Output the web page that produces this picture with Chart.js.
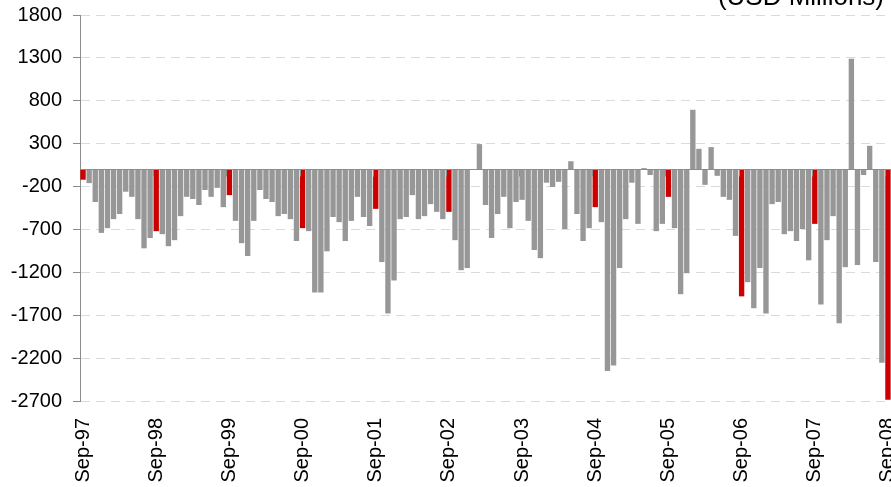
<!DOCTYPE html>
<html>
<head>
<meta charset="utf-8">
<script src="https://cdn.jsdelivr.net/npm/chart.js@4"></script>
<style>
  html, body { margin: 0; padding: 0; background: #fff; }
  #wrap { width: 891px; height: 487px; }
</style>
</head>
<body>
<div id="wrap"><canvas id="chart"></canvas></div>
<script>

// monthly flows, USD millions, Sep-97 .. Sep-08 (one row per Sep..Aug year)
const flows = [
  -120, -160, -380, -740, -685, -580, -520, -260, -320, -580, -920, -800,
  -720, -755, -895, -825, -545, -320, -345, -415, -240, -320, -215, -440,
  -300, -600, -860, -1010, -600, -240, -345, -380, -545, -520, -580, -835,
  -685, -720, -1435, -1435, -955, -555, -615, -835, -600, -320, -555, -660,
  -460, -1080, -1680, -1295, -580, -555, -300, -580, -545, -405, -495, -580,
  -495, -825, -1175, -1150, 0, 295, -415, -800, -520, -320, -685, -380,
  -355, -600, -940, -1035, -155, -205, -145, -695, 95, -520, -835, -685,
  -440, -615, -2350, -2285, -1150, -580, -155, -635, 15, -65, -720, -635,
  -320, -685, -1455, -1210, 695, 240, -180, 260, -75, -320, -355, -775,
  -1480, -1315, -1620, -1150, -1680, -405, -380, -755, -720, -835, -695, -1060,
  -635, -1575, -825, -545, -1795, -1140, 1290, -1115, -65, 275, -1080, -2255,
  -2685
];

// bars drawn in red (Sep-03 is grey in the original)
const redMonths = ['Sep-97', 'Sep-98', 'Sep-99', 'Sep-00', 'Sep-01', 'Sep-02',
                   'Sep-04', 'Sep-05', 'Sep-06', 'Sep-07', 'Sep-08'];

const yTicks = [-2700, -2200, -1700, -1200, -700, -200, 300, 800, 1300, 1800];

const monthNames = ['Jan', 'Feb', 'Mar', 'Apr', 'May', 'Jun',
                    'Jul', 'Aug', 'Sep', 'Oct', 'Nov', 'Dec'];

// category labels, starting Sep 1997
let months = [];
for (let i = 0; i < flows.length; i++) {
  const m = (8 + i) % 12;
  const yr = 1997 + Math.floor((8 + i) / 12);
  months.push(monthNames[m] + '-' + String(yr % 100).padStart(2, '0'));
}

const GREY = '#979797';
const RED = '#cc0000';
const AXIS = '#8c8c8c';
const FONT = 'Arial, "Liberation Sans", sans-serif';

const extras = {
  id: 'extras',
  afterDatasetsDraw(chart) {
    const { ctx, chartArea, scales: { x, y } } = chart;
    const y0 = Math.round(y.getPixelForValue(0)) + 0.5;
    ctx.save();
    ctx.strokeStyle = AXIS;
    ctx.lineWidth = 1;
    ctx.beginPath();
    ctx.moveTo(chartArea.left, y0);
    ctx.lineTo(chartArea.right, y0);
    // small year marks hanging under the zero line
    for (let i = 12; i < months.length; i += 12) {
      const xb = Math.round((x.getPixelForValue(i - 1) + x.getPixelForValue(i)) / 2) + 0.5;
      ctx.moveTo(xb, y0);
      ctx.lineTo(xb, y0 + 7);
    }
    ctx.stroke();

    ctx.fillStyle = '#000';
    ctx.font = '26px ' + FONT;
    ctx.textAlign = 'right';
    ctx.textBaseline = 'alphabetic';
    ctx.fillText('(USD Millions)', chart.width - 7, 5);
    ctx.restore();
  }
};

const ctx = document.getElementById('chart').getContext('2d');
const myChart = new Chart(ctx, {
  type: 'bar',
  data: {
    labels: months,
    datasets: [{
      data: flows,
      backgroundColor: months.map(m => redMonths.includes(m) ? RED : GREY),
      borderWidth: 0,
      barPercentage: 0.88,
      categoryPercentage: 1
    }]
  },
  options: {
    responsive: true,
    maintainAspectRatio: false,
    animation: false,
    layout: { padding: { top: 15, right: -1, bottom: 0, left: 0 } },
    plugins: {
      legend: { display: false },
      tooltip: { enabled: false }
    },
    scales: {
      x: {
        offset: true,
        grid: { display: false, drawTicks: false },
        border: { display: false },
        ticks: {
          autoSkip: false,
          minRotation: 90,
          maxRotation: 90,
          padding: 17,
          color: '#000',
          font: { family: FONT, size: 20 },
          callback: (v, i) => (i % 12 === 0 ? months[i] : '')
        },
        afterFit(s) { s.height = 86; s.paddingLeft = 0; s.paddingRight = 0; }
      },
      y: {
        min: yTicks[0],
        max: yTicks[yTicks.length - 1],
        afterBuildTicks(s) { s.ticks = yTicks.map(v => ({ value: v })); },
        ticks: {
          padding: 11,
          color: '#000',
          font: { family: FONT, size: 20 },
          callback: v => String(v)
        },
        grid: {
          color: '#dadada',
          lineWidth: 1,
          tickLength: 7,
          tickColor: AXIS,
          tickBorderDash: [],
          borderDash: [9, 6]
        },
        border: { color: AXIS, width: 1, dash: [9, 6] },
        afterFit(s) { s.width = 80; s.paddingTop = 0; s.paddingBottom = 0; }
      }
    }
  },
  plugins: [extras]
});
</script>
</body>
</html>
